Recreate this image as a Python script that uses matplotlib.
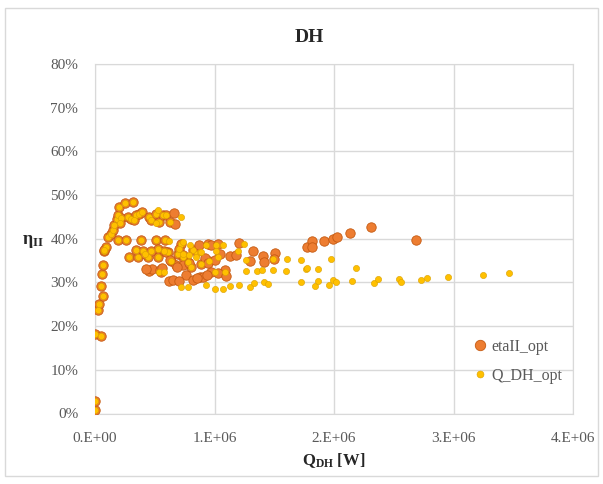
import matplotlib
matplotlib.use('Agg')
import matplotlib.pyplot as plt
from matplotlib.patches import Rectangle
from matplotlib.lines import Line2D
import numpy as np

plt.rcParams['font.family'] = ['Liberation Serif', 'DejaVu Serif']
plt.rcParams['mathtext.fontset'] = 'custom'
plt.rcParams['mathtext.rm'] = 'Liberation Serif'
plt.rcParams['mathtext.bf'] = 'Liberation Serif:bold'
plt.rcParams['mathtext.it'] = 'Liberation Serif:italic'

# points where both series coincide (Q in kW, eta in %)
shared_q = [0, 0, 0, 48, 25, 31, 70, 50, 56, 67,
            76, 93, 107, 135, 149, 163, 184, 191, 199, 253,
            316, 219, 190, 260, 275, 302, 343, 330, 371, 396,
            455, 469, 511, 539, 567, 595, 631, 288, 358, 346,
            385, 399, 441, 511, 525, 525, 586, 609, 581, 636,
            692, 734, 720, 776, 804, 883, 958, 78, 212, 420,
            470, 700, 820]
shared_eta = [0.8, 2.9, 18.3, 17.7, 23.7, 25.0, 26.9, 29.2, 31.9, 34.0,
              37.2, 38.2, 40.5, 41.2, 42.1, 43.1, 44.6, 45.4, 47.3, 48.1,
              48.4, 44.7, 39.8, 39.8, 45.0, 44.6, 45.4, 44.2, 45.7, 46.2,
              45.0, 44.2, 45.7, 43.8, 45.4, 45.4, 43.8, 35.8, 35.8, 37.4,
              39.6, 37.3, 35.8, 39.6, 37.7, 35.8, 39.6, 36.9, 37.3, 35.0,
              36.6, 35.8, 38.9, 34.6, 33.5, 34.3, 35.0, 37.5, 43.6, 36.5,
              37.3, 37.6, 37.5]

# etaII_opt only
eta_q = [455, 480, 553, 622, 650, 659, 670, 678, 734, 762,
         818, 880, 902, 972, 739, 683, 598, 626, 874, 944,
         921, 790, 972, 1028, 1209, 1321, 1126, 1181, 1084, 1028,
         944, 1293, 1404, 1418, 1510, 1502, 1772, 1814, 1814, 1917,
         1992, 2028, 2131, 2306, 2689, 1006, 542, 935, 430, 560,
         700, 850, 1100, 1050]
eta_val = [32.7, 33.0, 32.3, 30.4, 30.5, 45.9, 43.4, 33.9, 33.9, 31.6,
           30.6, 31.3, 31.2, 32.3, 36.3, 33.6, 37.0, 35.1, 38.5, 38.9,
           35.5, 34.4, 38.6, 38.9, 39.0, 37.3, 36.0, 36.3, 32.9, 32.1,
           34.4, 34.8, 36.0, 34.6, 36.7, 35.3, 38.2, 39.4, 38.1, 39.4,
           39.9, 40.4, 41.3, 42.8, 39.8, 35.1, 32.8, 31.7, 33.0, 33.2,
           30.3, 31.0, 31.5, 36.5]

# Q_DH_opt only
q_q = [716, 525, 514,
       720, 776, 930, 1000, 1070, 1126, 1204, 1301, 1329, 1418,
       1446, 1722, 1839, 1869, 1961, 1994, 2019, 2153, 2333, 2372,
       2547, 2561, 2728, 2778, 2953, 3244, 3464,
       1000, 1084, 1265, 1357, 1396, 1488, 1600, 1764, 1778, 1867, 2181,
       930, 1014, 1070, 1014, 1028, 1251, 1195, 1265, 1488, 1608, 1722, 1972,
       739, 795, 739, 851, 879, 539, 581, 790, 846, 888, 620]
q_val = [45.0, 46.5, 43.5,
         28.9, 28.9, 29.3, 28.5, 28.5, 29.2, 29.5, 28.9, 29.8, 30.0,
         29.7, 30.2, 29.2, 30.3, 29.4, 30.5, 30.2, 30.3, 29.8, 30.8,
         30.8, 30.1, 30.5, 31.1, 31.3, 31.6, 32.1,
         32.5, 32.5, 32.7, 32.7, 32.9, 32.9, 32.7, 33.1, 33.3, 33.1, 33.4,
         38.6, 38.6, 38.6, 37.1, 35.8, 38.9, 37.1, 35.2, 35.3, 35.3, 35.2, 35.4,
         39.3, 38.5, 36.6, 36.6, 37.0, 32.3, 32.3, 36.2, 35.8, 36.9, 39.5]

xticks = [0, 1e6, 2e6, 3e6, 4e6]
xtick_labels = ['0.E+00', '1.E+06', '2.E+06', '3.E+06', '4.E+06']
yticks = [0, 0.1, 0.2, 0.3, 0.4, 0.5, 0.6, 0.7, 0.8]

eta_x = np.array(shared_q + eta_q) * 1e3
eta_y = np.array(shared_eta + eta_val) / 100
q_x = np.array(shared_q + q_q) * 1e3
q_y = np.array(shared_eta + q_val) / 100

grid_c = '#D9D9D9'
text_c = '#595959'

fig = plt.figure(figsize=(6.03, 4.84), dpi=100)
fig.patches.append(Rectangle((5/603, 1-476/484), 593/603, 468/484, transform=fig.transFigure,
                             fill=False, edgecolor=grid_c, linewidth=1))
ax = fig.add_axes([95/603, 1-413.5/484, 478/603, 349.5/484])

ax.scatter(eta_x, eta_y, s=46, color='#ED7D31', edgecolors='#C55A11', linewidths=0.6, zorder=3)
ax.scatter(q_x, q_y, s=20, color='#FFC000', edgecolors='#D9A000', linewidths=0.4, zorder=4)

ax.set_xlim(0, 4e6)
ax.set_ylim(0, 0.8)
ax.set_xticks(xticks)
ax.set_xticklabels(xtick_labels)
ax.set_yticks(yticks)
ax.set_yticklabels(['{:.0f}%'.format(v*100) for v in yticks])
ax.grid(True, color=grid_c, linewidth=1)
ax.set_axisbelow(True)
for sp in ax.spines.values():
    sp.set_color(grid_c)
ax.tick_params(length=0, labelsize=11, labelcolor=text_c)
ax.tick_params(axis='x', pad=13)
ax.tick_params(axis='y', pad=12)

fig.text(309/603, 1-38/484, 'DH', ha='center', va='center', fontsize=14, fontweight='bold', color='#262626')
fig.text(334/603, 1-461/484, r'$\mathbf{Q_{DH}\ [W]}$', ha='center', va='center', fontsize=12, color='#262626')
fig.text(33/603, 1-241/484, r'$\mathbf{\eta_{II}}$', ha='center', va='center', fontsize=13, color='#262626')

handles = [Line2D([], [], marker='o', linestyle='', markersize=7.5, markerfacecolor='#ED7D31',
                  markeredgecolor='#C55A11', markeredgewidth=0.6),
           Line2D([], [], marker='o', linestyle='', markersize=5, markerfacecolor='#FFC000',
                  markeredgecolor='#D9A000', markeredgewidth=0.4)]
leg = ax.legend(handles, ['etaII_opt', 'Q_DH_opt'], loc='upper left', bbox_to_anchor=(0.755, 0.255),
                frameon=False, fontsize=11.5, handletextpad=0.1, labelspacing=0.8, handlelength=1.2)
for t in leg.get_texts():
    t.set_color(text_c)

fig.savefig('out.png', dpi=100)
